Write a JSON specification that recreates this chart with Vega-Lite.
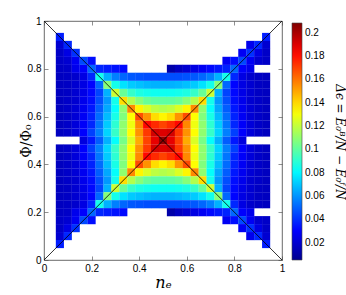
{
"$schema": "https://vega.github.io/schema/vega-lite/v6.json",
"width": 238, "height": 239,
"autosize": {"type": "none"},
"padding": {"left": 44, "top": 21, "right": 64, "bottom": 35},
"background": "white",
"config": {
  "font": "Liberation Sans",
  "view": {"stroke": "#444", "strokeWidth": 0.8},
  "axis": {"domain": false, "grid": false, "tickSize": -4, "tickColor": "#444", "tickWidth": 0.6, "labelFontSize": 10, "labelColor": "#000", "labelFont": "Liberation Sans", "titleFont": "DejaVu Serif", "titleFontWeight": "normal", "titleColor": "#000"}
},
"layer": [
{
"data": {"values": [
{"ne":0.1667,"phi":0.5,"de":0.023},{"ne":0.2,"phi":0.5,"de":0.035},{"ne":0.2333,"phi":0.5,"de":0.049},{"ne":0.2667,"phi":0.5,"de":0.066},{"ne":0.3,"phi":0.5,"de":0.082},{"ne":0.3333,"phi":0.5,"de":0.105},{"ne":0.3667,"phi":0.5,"de":0.125},{"ne":0.4,"phi":0.5,"de":0.149},{"ne":0.4333,"phi":0.5,"de":0.170},{"ne":0.4667,"phi":0.5,"de":0.188},{"ne":0.5,"phi":0.5,"de":0.205},{"ne":0.5333,"phi":0.5,"de":0.188},{"ne":0.5667,"phi":0.5,"de":0.170},{"ne":0.6,"phi":0.5,"de":0.149},{"ne":0.6333,"phi":0.5,"de":0.125},{"ne":0.6667,"phi":0.5,"de":0.105},{"ne":0.7,"phi":0.5,"de":0.082},{"ne":0.7333,"phi":0.5,"de":0.066},{"ne":0.7667,"phi":0.5,"de":0.049},{"ne":0.8,"phi":0.5,"de":0.035},{"ne":0.8333,"phi":0.5,"de":0.023},

{"ne":0.0667,"phi":0.5333,"de":0.016},{"ne":0.1,"phi":0.5333,"de":0.018},{"ne":0.1333,"phi":0.5333,"de":0.022},{"ne":0.1667,"phi":0.5333,"de":0.030},{"ne":0.2,"phi":0.5333,"de":0.043},{"ne":0.2333,"phi":0.5333,"de":0.056},{"ne":0.2667,"phi":0.5333,"de":0.073},{"ne":0.3,"phi":0.5333,"de":0.092},{"ne":0.3333,"phi":0.5333,"de":0.110},{"ne":0.3667,"phi":0.5333,"de":0.132},{"ne":0.4,"phi":0.5333,"de":0.154},{"ne":0.4333,"phi":0.5333,"de":0.172},{"ne":0.4667,"phi":0.5333,"de":0.192},{"ne":0.5,"phi":0.5333,"de":0.190},{"ne":0.5333,"phi":0.5333,"de":0.192},{"ne":0.5667,"phi":0.5333,"de":0.172},{"ne":0.6,"phi":0.5333,"de":0.154},{"ne":0.6333,"phi":0.5333,"de":0.132},{"ne":0.6667,"phi":0.5333,"de":0.110},{"ne":0.7,"phi":0.5333,"de":0.092},{"ne":0.7333,"phi":0.5333,"de":0.073},{"ne":0.7667,"phi":0.5333,"de":0.056},{"ne":0.8,"phi":0.5333,"de":0.043},{"ne":0.8333,"phi":0.5333,"de":0.030},{"ne":0.8667,"phi":0.5333,"de":0.022},{"ne":0.9,"phi":0.5333,"de":0.018},{"ne":0.9333,"phi":0.5333,"de":0.016},
{"ne":0.0667,"phi":0.4667,"de":0.016},{"ne":0.1,"phi":0.4667,"de":0.018},{"ne":0.1333,"phi":0.4667,"de":0.022},{"ne":0.1667,"phi":0.4667,"de":0.030},{"ne":0.2,"phi":0.4667,"de":0.043},{"ne":0.2333,"phi":0.4667,"de":0.056},{"ne":0.2667,"phi":0.4667,"de":0.073},{"ne":0.3,"phi":0.4667,"de":0.092},{"ne":0.3333,"phi":0.4667,"de":0.110},{"ne":0.3667,"phi":0.4667,"de":0.132},{"ne":0.4,"phi":0.4667,"de":0.154},{"ne":0.4333,"phi":0.4667,"de":0.172},{"ne":0.4667,"phi":0.4667,"de":0.192},{"ne":0.5,"phi":0.4667,"de":0.190},{"ne":0.5333,"phi":0.4667,"de":0.192},{"ne":0.5667,"phi":0.4667,"de":0.172},{"ne":0.6,"phi":0.4667,"de":0.154},{"ne":0.6333,"phi":0.4667,"de":0.132},{"ne":0.6667,"phi":0.4667,"de":0.110},{"ne":0.7,"phi":0.4667,"de":0.092},{"ne":0.7333,"phi":0.4667,"de":0.073},{"ne":0.7667,"phi":0.4667,"de":0.056},{"ne":0.8,"phi":0.4667,"de":0.043},{"ne":0.8333,"phi":0.4667,"de":0.030},{"ne":0.8667,"phi":0.4667,"de":0.022},{"ne":0.9,"phi":0.4667,"de":0.018},{"ne":0.9333,"phi":0.4667,"de":0.016},

{"ne":0.0667,"phi":0.5667,"de":0.016},{"ne":0.1,"phi":0.5667,"de":0.018},{"ne":0.1333,"phi":0.5667,"de":0.022},{"ne":0.1667,"phi":0.5667,"de":0.029},{"ne":0.2,"phi":0.5667,"de":0.038},{"ne":0.2333,"phi":0.5667,"de":0.054},{"ne":0.2667,"phi":0.5667,"de":0.071},{"ne":0.3,"phi":0.5667,"de":0.090},{"ne":0.3333,"phi":0.5667,"de":0.110},{"ne":0.3667,"phi":0.5667,"de":0.129},{"ne":0.4,"phi":0.5667,"de":0.156},{"ne":0.4333,"phi":0.5667,"de":0.182},{"ne":0.4667,"phi":0.5667,"de":0.175},{"ne":0.5,"phi":0.5667,"de":0.170},{"ne":0.5333,"phi":0.5667,"de":0.175},{"ne":0.5667,"phi":0.5667,"de":0.182},{"ne":0.6,"phi":0.5667,"de":0.156},{"ne":0.6333,"phi":0.5667,"de":0.129},{"ne":0.6667,"phi":0.5667,"de":0.110},{"ne":0.7,"phi":0.5667,"de":0.090},{"ne":0.7333,"phi":0.5667,"de":0.071},{"ne":0.7667,"phi":0.5667,"de":0.054},{"ne":0.8,"phi":0.5667,"de":0.038},{"ne":0.8333,"phi":0.5667,"de":0.029},{"ne":0.8667,"phi":0.5667,"de":0.022},{"ne":0.9,"phi":0.5667,"de":0.018},{"ne":0.9333,"phi":0.5667,"de":0.016},
{"ne":0.0667,"phi":0.4333,"de":0.016},{"ne":0.1,"phi":0.4333,"de":0.018},{"ne":0.1333,"phi":0.4333,"de":0.022},{"ne":0.1667,"phi":0.4333,"de":0.029},{"ne":0.2,"phi":0.4333,"de":0.038},{"ne":0.2333,"phi":0.4333,"de":0.054},{"ne":0.2667,"phi":0.4333,"de":0.071},{"ne":0.3,"phi":0.4333,"de":0.090},{"ne":0.3333,"phi":0.4333,"de":0.110},{"ne":0.3667,"phi":0.4333,"de":0.129},{"ne":0.4,"phi":0.4333,"de":0.156},{"ne":0.4333,"phi":0.4333,"de":0.182},{"ne":0.4667,"phi":0.4333,"de":0.175},{"ne":0.5,"phi":0.4333,"de":0.170},{"ne":0.5333,"phi":0.4333,"de":0.175},{"ne":0.5667,"phi":0.4333,"de":0.182},{"ne":0.6,"phi":0.4333,"de":0.156},{"ne":0.6333,"phi":0.4333,"de":0.129},{"ne":0.6667,"phi":0.4333,"de":0.110},{"ne":0.7,"phi":0.4333,"de":0.090},{"ne":0.7333,"phi":0.4333,"de":0.071},{"ne":0.7667,"phi":0.4333,"de":0.054},{"ne":0.8,"phi":0.4333,"de":0.038},{"ne":0.8333,"phi":0.4333,"de":0.029},{"ne":0.8667,"phi":0.4333,"de":0.022},{"ne":0.9,"phi":0.4333,"de":0.018},{"ne":0.9333,"phi":0.4333,"de":0.016},

{"ne":0.0667,"phi":0.6,"de":0.016},{"ne":0.1,"phi":0.6,"de":0.018},{"ne":0.1333,"phi":0.6,"de":0.021},{"ne":0.1667,"phi":0.6,"de":0.028},{"ne":0.2,"phi":0.6,"de":0.037},{"ne":0.2333,"phi":0.6,"de":0.052},{"ne":0.2667,"phi":0.6,"de":0.068},{"ne":0.3,"phi":0.6,"de":0.086},{"ne":0.3333,"phi":0.6,"de":0.107},{"ne":0.3667,"phi":0.6,"de":0.132},{"ne":0.4,"phi":0.6,"de":0.168},{"ne":0.4333,"phi":0.6,"de":0.154},{"ne":0.4667,"phi":0.6,"de":0.139},{"ne":0.5,"phi":0.6,"de":0.134},{"ne":0.5333,"phi":0.6,"de":0.139},{"ne":0.5667,"phi":0.6,"de":0.154},{"ne":0.6,"phi":0.6,"de":0.168},{"ne":0.6333,"phi":0.6,"de":0.132},{"ne":0.6667,"phi":0.6,"de":0.107},{"ne":0.7,"phi":0.6,"de":0.086},{"ne":0.7333,"phi":0.6,"de":0.068},{"ne":0.7667,"phi":0.6,"de":0.052},{"ne":0.8,"phi":0.6,"de":0.037},{"ne":0.8333,"phi":0.6,"de":0.028},{"ne":0.8667,"phi":0.6,"de":0.021},{"ne":0.9,"phi":0.6,"de":0.018},{"ne":0.9333,"phi":0.6,"de":0.016},
{"ne":0.0667,"phi":0.4,"de":0.016},{"ne":0.1,"phi":0.4,"de":0.018},{"ne":0.1333,"phi":0.4,"de":0.021},{"ne":0.1667,"phi":0.4,"de":0.028},{"ne":0.2,"phi":0.4,"de":0.037},{"ne":0.2333,"phi":0.4,"de":0.052},{"ne":0.2667,"phi":0.4,"de":0.068},{"ne":0.3,"phi":0.4,"de":0.086},{"ne":0.3333,"phi":0.4,"de":0.107},{"ne":0.3667,"phi":0.4,"de":0.132},{"ne":0.4,"phi":0.4,"de":0.168},{"ne":0.4333,"phi":0.4,"de":0.154},{"ne":0.4667,"phi":0.4,"de":0.139},{"ne":0.5,"phi":0.4,"de":0.134},{"ne":0.5333,"phi":0.4,"de":0.139},{"ne":0.5667,"phi":0.4,"de":0.154},{"ne":0.6,"phi":0.4,"de":0.168},{"ne":0.6333,"phi":0.4,"de":0.132},{"ne":0.6667,"phi":0.4,"de":0.107},{"ne":0.7,"phi":0.4,"de":0.086},{"ne":0.7333,"phi":0.4,"de":0.068},{"ne":0.7667,"phi":0.4,"de":0.052},{"ne":0.8,"phi":0.4,"de":0.037},{"ne":0.8333,"phi":0.4,"de":0.028},{"ne":0.8667,"phi":0.4,"de":0.021},{"ne":0.9,"phi":0.4,"de":0.018},{"ne":0.9333,"phi":0.4,"de":0.016},

{"ne":0.0667,"phi":0.6333,"de":0.016},{"ne":0.1,"phi":0.6333,"de":0.018},{"ne":0.1333,"phi":0.6333,"de":0.021},{"ne":0.1667,"phi":0.6333,"de":0.027},{"ne":0.2,"phi":0.6333,"de":0.035},{"ne":0.2333,"phi":0.6333,"de":0.049},{"ne":0.2667,"phi":0.6333,"de":0.064},{"ne":0.3,"phi":0.6333,"de":0.082},{"ne":0.3333,"phi":0.6333,"de":0.110},{"ne":0.3667,"phi":0.6333,"de":0.156},{"ne":0.4,"phi":0.6333,"de":0.134},{"ne":0.4333,"phi":0.6333,"de":0.125},{"ne":0.4667,"phi":0.6333,"de":0.119},{"ne":0.5,"phi":0.6333,"de":0.117},{"ne":0.5333,"phi":0.6333,"de":0.119},{"ne":0.5667,"phi":0.6333,"de":0.125},{"ne":0.6,"phi":0.6333,"de":0.134},{"ne":0.6333,"phi":0.6333,"de":0.156},{"ne":0.6667,"phi":0.6333,"de":0.110},{"ne":0.7,"phi":0.6333,"de":0.082},{"ne":0.7333,"phi":0.6333,"de":0.064},{"ne":0.7667,"phi":0.6333,"de":0.049},{"ne":0.8,"phi":0.6333,"de":0.035},{"ne":0.8333,"phi":0.6333,"de":0.027},{"ne":0.8667,"phi":0.6333,"de":0.021},{"ne":0.9,"phi":0.6333,"de":0.018},{"ne":0.9333,"phi":0.6333,"de":0.016},
{"ne":0.0667,"phi":0.3667,"de":0.016},{"ne":0.1,"phi":0.3667,"de":0.018},{"ne":0.1333,"phi":0.3667,"de":0.021},{"ne":0.1667,"phi":0.3667,"de":0.027},{"ne":0.2,"phi":0.3667,"de":0.035},{"ne":0.2333,"phi":0.3667,"de":0.049},{"ne":0.2667,"phi":0.3667,"de":0.064},{"ne":0.3,"phi":0.3667,"de":0.082},{"ne":0.3333,"phi":0.3667,"de":0.110},{"ne":0.3667,"phi":0.3667,"de":0.156},{"ne":0.4,"phi":0.3667,"de":0.134},{"ne":0.4333,"phi":0.3667,"de":0.125},{"ne":0.4667,"phi":0.3667,"de":0.119},{"ne":0.5,"phi":0.3667,"de":0.117},{"ne":0.5333,"phi":0.3667,"de":0.119},{"ne":0.5667,"phi":0.3667,"de":0.125},{"ne":0.6,"phi":0.3667,"de":0.134},{"ne":0.6333,"phi":0.3667,"de":0.156},{"ne":0.6667,"phi":0.3667,"de":0.110},{"ne":0.7,"phi":0.3667,"de":0.082},{"ne":0.7333,"phi":0.3667,"de":0.064},{"ne":0.7667,"phi":0.3667,"de":0.049},{"ne":0.8,"phi":0.3667,"de":0.035},{"ne":0.8333,"phi":0.3667,"de":0.027},{"ne":0.8667,"phi":0.3667,"de":0.021},{"ne":0.9,"phi":0.3667,"de":0.018},{"ne":0.9333,"phi":0.3667,"de":0.016},

{"ne":0.0667,"phi":0.6667,"de":0.016},{"ne":0.1,"phi":0.6667,"de":0.018},{"ne":0.1333,"phi":0.6667,"de":0.020},{"ne":0.1667,"phi":0.6667,"de":0.026},{"ne":0.2,"phi":0.6667,"de":0.033},{"ne":0.2333,"phi":0.6667,"de":0.046},{"ne":0.2667,"phi":0.6667,"de":0.061},{"ne":0.3,"phi":0.6667,"de":0.085},{"ne":0.3333,"phi":0.6667,"de":0.139},{"ne":0.3667,"phi":0.6667,"de":0.117},{"ne":0.4,"phi":0.6667,"de":0.108},{"ne":0.4333,"phi":0.6667,"de":0.102},{"ne":0.4667,"phi":0.6667,"de":0.100},{"ne":0.5,"phi":0.6667,"de":0.100},{"ne":0.5333,"phi":0.6667,"de":0.100},{"ne":0.5667,"phi":0.6667,"de":0.102},{"ne":0.6,"phi":0.6667,"de":0.108},{"ne":0.6333,"phi":0.6667,"de":0.117},{"ne":0.6667,"phi":0.6667,"de":0.139},{"ne":0.7,"phi":0.6667,"de":0.085},{"ne":0.7333,"phi":0.6667,"de":0.061},{"ne":0.7667,"phi":0.6667,"de":0.046},{"ne":0.8,"phi":0.6667,"de":0.033},{"ne":0.8333,"phi":0.6667,"de":0.026},{"ne":0.8667,"phi":0.6667,"de":0.020},{"ne":0.9,"phi":0.6667,"de":0.018},{"ne":0.9333,"phi":0.6667,"de":0.016},
{"ne":0.0667,"phi":0.3333,"de":0.016},{"ne":0.1,"phi":0.3333,"de":0.018},{"ne":0.1333,"phi":0.3333,"de":0.020},{"ne":0.1667,"phi":0.3333,"de":0.026},{"ne":0.2,"phi":0.3333,"de":0.033},{"ne":0.2333,"phi":0.3333,"de":0.046},{"ne":0.2667,"phi":0.3333,"de":0.061},{"ne":0.3,"phi":0.3333,"de":0.085},{"ne":0.3333,"phi":0.3333,"de":0.139},{"ne":0.3667,"phi":0.3333,"de":0.117},{"ne":0.4,"phi":0.3333,"de":0.108},{"ne":0.4333,"phi":0.3333,"de":0.102},{"ne":0.4667,"phi":0.3333,"de":0.100},{"ne":0.5,"phi":0.3333,"de":0.100},{"ne":0.5333,"phi":0.3333,"de":0.100},{"ne":0.5667,"phi":0.3333,"de":0.102},{"ne":0.6,"phi":0.3333,"de":0.108},{"ne":0.6333,"phi":0.3333,"de":0.117},{"ne":0.6667,"phi":0.3333,"de":0.139},{"ne":0.7,"phi":0.3333,"de":0.085},{"ne":0.7333,"phi":0.3333,"de":0.061},{"ne":0.7667,"phi":0.3333,"de":0.046},{"ne":0.8,"phi":0.3333,"de":0.033},{"ne":0.8333,"phi":0.3333,"de":0.026},{"ne":0.8667,"phi":0.3333,"de":0.020},{"ne":0.9,"phi":0.3333,"de":0.018},{"ne":0.9333,"phi":0.3333,"de":0.016},

{"ne":0.0667,"phi":0.7,"de":0.016},{"ne":0.1,"phi":0.7,"de":0.017},{"ne":0.1333,"phi":0.7,"de":0.020},{"ne":0.1667,"phi":0.7,"de":0.025},{"ne":0.2,"phi":0.7,"de":0.032},{"ne":0.2333,"phi":0.7,"de":0.044},{"ne":0.2667,"phi":0.7,"de":0.066},{"ne":0.3,"phi":0.7,"de":0.122},{"ne":0.3333,"phi":0.7,"de":0.102},{"ne":0.3667,"phi":0.7,"de":0.092},{"ne":0.4,"phi":0.7,"de":0.087},{"ne":0.4333,"phi":0.7,"de":0.085},{"ne":0.4667,"phi":0.7,"de":0.084},{"ne":0.5,"phi":0.7,"de":0.084},{"ne":0.5333,"phi":0.7,"de":0.084},{"ne":0.5667,"phi":0.7,"de":0.085},{"ne":0.6,"phi":0.7,"de":0.087},{"ne":0.6333,"phi":0.7,"de":0.092},{"ne":0.6667,"phi":0.7,"de":0.102},{"ne":0.7,"phi":0.7,"de":0.122},{"ne":0.7333,"phi":0.7,"de":0.066},{"ne":0.7667,"phi":0.7,"de":0.044},{"ne":0.8,"phi":0.7,"de":0.032},{"ne":0.8333,"phi":0.7,"de":0.025},{"ne":0.8667,"phi":0.7,"de":0.020},{"ne":0.9,"phi":0.7,"de":0.017},{"ne":0.9333,"phi":0.7,"de":0.016},
{"ne":0.0667,"phi":0.3,"de":0.016},{"ne":0.1,"phi":0.3,"de":0.017},{"ne":0.1333,"phi":0.3,"de":0.020},{"ne":0.1667,"phi":0.3,"de":0.025},{"ne":0.2,"phi":0.3,"de":0.032},{"ne":0.2333,"phi":0.3,"de":0.044},{"ne":0.2667,"phi":0.3,"de":0.066},{"ne":0.3,"phi":0.3,"de":0.122},{"ne":0.3333,"phi":0.3,"de":0.102},{"ne":0.3667,"phi":0.3,"de":0.092},{"ne":0.4,"phi":0.3,"de":0.087},{"ne":0.4333,"phi":0.3,"de":0.085},{"ne":0.4667,"phi":0.3,"de":0.084},{"ne":0.5,"phi":0.3,"de":0.084},{"ne":0.5333,"phi":0.3,"de":0.084},{"ne":0.5667,"phi":0.3,"de":0.085},{"ne":0.6,"phi":0.3,"de":0.087},{"ne":0.6333,"phi":0.3,"de":0.092},{"ne":0.6667,"phi":0.3,"de":0.102},{"ne":0.7,"phi":0.3,"de":0.122},{"ne":0.7333,"phi":0.3,"de":0.066},{"ne":0.7667,"phi":0.3,"de":0.044},{"ne":0.8,"phi":0.3,"de":0.032},{"ne":0.8333,"phi":0.3,"de":0.025},{"ne":0.8667,"phi":0.3,"de":0.020},{"ne":0.9,"phi":0.3,"de":0.017},{"ne":0.9333,"phi":0.3,"de":0.016},

{"ne":0.0667,"phi":0.7333,"de":0.016},{"ne":0.1,"phi":0.7333,"de":0.017},{"ne":0.1333,"phi":0.7333,"de":0.020},{"ne":0.1667,"phi":0.7333,"de":0.024},{"ne":0.2,"phi":0.7333,"de":0.031},{"ne":0.2333,"phi":0.7333,"de":0.051},{"ne":0.2667,"phi":0.7333,"de":0.108},{"ne":0.3,"phi":0.7333,"de":0.085},{"ne":0.3333,"phi":0.7333,"de":0.076},{"ne":0.3667,"phi":0.7333,"de":0.071},{"ne":0.4,"phi":0.7333,"de":0.069},{"ne":0.4333,"phi":0.7333,"de":0.067},{"ne":0.4667,"phi":0.7333,"de":0.066},{"ne":0.5,"phi":0.7333,"de":0.066},{"ne":0.5333,"phi":0.7333,"de":0.066},{"ne":0.5667,"phi":0.7333,"de":0.067},{"ne":0.6,"phi":0.7333,"de":0.069},{"ne":0.6333,"phi":0.7333,"de":0.071},{"ne":0.6667,"phi":0.7333,"de":0.076},{"ne":0.7,"phi":0.7333,"de":0.085},{"ne":0.7333,"phi":0.7333,"de":0.108},{"ne":0.7667,"phi":0.7333,"de":0.051},{"ne":0.8,"phi":0.7333,"de":0.031},{"ne":0.8333,"phi":0.7333,"de":0.024},{"ne":0.8667,"phi":0.7333,"de":0.020},{"ne":0.9,"phi":0.7333,"de":0.017},{"ne":0.9333,"phi":0.7333,"de":0.016},
{"ne":0.0667,"phi":0.2667,"de":0.016},{"ne":0.1,"phi":0.2667,"de":0.017},{"ne":0.1333,"phi":0.2667,"de":0.020},{"ne":0.1667,"phi":0.2667,"de":0.024},{"ne":0.2,"phi":0.2667,"de":0.031},{"ne":0.2333,"phi":0.2667,"de":0.051},{"ne":0.2667,"phi":0.2667,"de":0.108},{"ne":0.3,"phi":0.2667,"de":0.085},{"ne":0.3333,"phi":0.2667,"de":0.076},{"ne":0.3667,"phi":0.2667,"de":0.071},{"ne":0.4,"phi":0.2667,"de":0.069},{"ne":0.4333,"phi":0.2667,"de":0.067},{"ne":0.4667,"phi":0.2667,"de":0.066},{"ne":0.5,"phi":0.2667,"de":0.066},{"ne":0.5333,"phi":0.2667,"de":0.066},{"ne":0.5667,"phi":0.2667,"de":0.067},{"ne":0.6,"phi":0.2667,"de":0.069},{"ne":0.6333,"phi":0.2667,"de":0.071},{"ne":0.6667,"phi":0.2667,"de":0.076},{"ne":0.7,"phi":0.2667,"de":0.085},{"ne":0.7333,"phi":0.2667,"de":0.108},{"ne":0.7667,"phi":0.2667,"de":0.051},{"ne":0.8,"phi":0.2667,"de":0.031},{"ne":0.8333,"phi":0.2667,"de":0.024},{"ne":0.8667,"phi":0.2667,"de":0.020},{"ne":0.9,"phi":0.2667,"de":0.017},{"ne":0.9333,"phi":0.2667,"de":0.016},

{"ne":0.0667,"phi":0.7667,"de":0.016},{"ne":0.1,"phi":0.7667,"de":0.017},{"ne":0.1333,"phi":0.7667,"de":0.019},{"ne":0.1667,"phi":0.7667,"de":0.024},{"ne":0.2,"phi":0.7667,"de":0.038},{"ne":0.2333,"phi":0.7667,"de":0.085},{"ne":0.2667,"phi":0.7667,"de":0.066},{"ne":0.3,"phi":0.7667,"de":0.056},{"ne":0.3333,"phi":0.7667,"de":0.051},{"ne":0.3667,"phi":0.7667,"de":0.048},{"ne":0.4,"phi":0.7667,"de":0.047},{"ne":0.4333,"phi":0.7667,"de":0.046},{"ne":0.4667,"phi":0.7667,"de":0.046},{"ne":0.5,"phi":0.7667,"de":0.046},{"ne":0.5333,"phi":0.7667,"de":0.046},{"ne":0.5667,"phi":0.7667,"de":0.046},{"ne":0.6,"phi":0.7667,"de":0.047},{"ne":0.6333,"phi":0.7667,"de":0.048},{"ne":0.6667,"phi":0.7667,"de":0.051},{"ne":0.7,"phi":0.7667,"de":0.056},{"ne":0.7333,"phi":0.7667,"de":0.066},{"ne":0.7667,"phi":0.7667,"de":0.085},{"ne":0.8,"phi":0.7667,"de":0.038},{"ne":0.8333,"phi":0.7667,"de":0.024},{"ne":0.8667,"phi":0.7667,"de":0.019},{"ne":0.9,"phi":0.7667,"de":0.017},{"ne":0.9333,"phi":0.7667,"de":0.016},
{"ne":0.0667,"phi":0.2333,"de":0.016},{"ne":0.1,"phi":0.2333,"de":0.017},{"ne":0.1333,"phi":0.2333,"de":0.019},{"ne":0.1667,"phi":0.2333,"de":0.024},{"ne":0.2,"phi":0.2333,"de":0.038},{"ne":0.2333,"phi":0.2333,"de":0.085},{"ne":0.2667,"phi":0.2333,"de":0.066},{"ne":0.3,"phi":0.2333,"de":0.056},{"ne":0.3333,"phi":0.2333,"de":0.051},{"ne":0.3667,"phi":0.2333,"de":0.048},{"ne":0.4,"phi":0.2333,"de":0.047},{"ne":0.4333,"phi":0.2333,"de":0.046},{"ne":0.4667,"phi":0.2333,"de":0.046},{"ne":0.5,"phi":0.2333,"de":0.046},{"ne":0.5333,"phi":0.2333,"de":0.046},{"ne":0.5667,"phi":0.2333,"de":0.046},{"ne":0.6,"phi":0.2333,"de":0.047},{"ne":0.6333,"phi":0.2333,"de":0.048},{"ne":0.6667,"phi":0.2333,"de":0.051},{"ne":0.7,"phi":0.2333,"de":0.056},{"ne":0.7333,"phi":0.2333,"de":0.066},{"ne":0.7667,"phi":0.2333,"de":0.085},{"ne":0.8,"phi":0.2333,"de":0.038},{"ne":0.8333,"phi":0.2333,"de":0.024},{"ne":0.8667,"phi":0.2333,"de":0.019},{"ne":0.9,"phi":0.2333,"de":0.017},{"ne":0.9333,"phi":0.2333,"de":0.016},

{"ne":0.0667,"phi":0.8,"de":0.017},{"ne":0.1,"phi":0.8,"de":0.018},{"ne":0.1333,"phi":0.8,"de":0.026},{"ne":0.1667,"phi":0.8,"de":0.030},{"ne":0.2,"phi":0.8,"de":0.051},{"ne":0.2333,"phi":0.8,"de":0.038},{"ne":0.2667,"phi":0.8,"de":0.036},{"ne":0.3,"phi":0.8,"de":0.034},{"ne":0.3333,"phi":0.8,"de":0.032},{"ne":0.5333,"phi":0.8,"de":0.011},{"ne":0.5667,"phi":0.8,"de":0.016},{"ne":0.6,"phi":0.8,"de":0.020},{"ne":0.6333,"phi":0.8,"de":0.024},{"ne":0.6667,"phi":0.8,"de":0.028},{"ne":0.7,"phi":0.8,"de":0.032},{"ne":0.7333,"phi":0.8,"de":0.035},{"ne":0.7667,"phi":0.8,"de":0.037},{"ne":0.8,"phi":0.8,"de":0.051},{"ne":0.8333,"phi":0.8,"de":0.030},{"ne":0.8667,"phi":0.8,"de":0.026},
{"ne":0.0667,"phi":0.2,"de":0.017},{"ne":0.1,"phi":0.2,"de":0.018},{"ne":0.1333,"phi":0.2,"de":0.026},{"ne":0.1667,"phi":0.2,"de":0.030},{"ne":0.2,"phi":0.2,"de":0.051},{"ne":0.2333,"phi":0.2,"de":0.038},{"ne":0.2667,"phi":0.2,"de":0.036},{"ne":0.3,"phi":0.2,"de":0.034},{"ne":0.3333,"phi":0.2,"de":0.032},{"ne":0.5333,"phi":0.2,"de":0.011},{"ne":0.5667,"phi":0.2,"de":0.016},{"ne":0.6,"phi":0.2,"de":0.020},{"ne":0.6333,"phi":0.2,"de":0.024},{"ne":0.6667,"phi":0.2,"de":0.028},{"ne":0.7,"phi":0.2,"de":0.032},{"ne":0.7333,"phi":0.2,"de":0.035},{"ne":0.7667,"phi":0.2,"de":0.037},{"ne":0.8,"phi":0.2,"de":0.051},{"ne":0.8333,"phi":0.2,"de":0.030},{"ne":0.8667,"phi":0.2,"de":0.026},

{"ne":0.0667,"phi":0.8333,"de":0.018},{"ne":0.1,"phi":0.8333,"de":0.020},{"ne":0.1333,"phi":0.8333,"de":0.028},{"ne":0.1667,"phi":0.8333,"de":0.045},{"ne":0.2,"phi":0.8333,"de":0.033},{"ne":0.7667,"phi":0.8333,"de":0.028},{"ne":0.8,"phi":0.8333,"de":0.033},{"ne":0.8333,"phi":0.8333,"de":0.045},{"ne":0.8667,"phi":0.8333,"de":0.028},{"ne":0.9,"phi":0.8333,"de":0.020},{"ne":0.9333,"phi":0.8333,"de":0.018},
{"ne":0.0667,"phi":0.1667,"de":0.018},{"ne":0.1,"phi":0.1667,"de":0.020},{"ne":0.1333,"phi":0.1667,"de":0.028},{"ne":0.1667,"phi":0.1667,"de":0.045},{"ne":0.2,"phi":0.1667,"de":0.033},{"ne":0.7667,"phi":0.1667,"de":0.028},{"ne":0.8,"phi":0.1667,"de":0.033},{"ne":0.8333,"phi":0.1667,"de":0.045},{"ne":0.8667,"phi":0.1667,"de":0.028},{"ne":0.9,"phi":0.1667,"de":0.020},{"ne":0.9333,"phi":0.1667,"de":0.018},

{"ne":0.0667,"phi":0.8667,"de":0.018},{"ne":0.1,"phi":0.8667,"de":0.024},{"ne":0.1333,"phi":0.8667,"de":0.040},{"ne":0.8333,"phi":0.8667,"de":0.028},{"ne":0.8667,"phi":0.8667,"de":0.040},{"ne":0.9,"phi":0.8667,"de":0.024},{"ne":0.9333,"phi":0.8667,"de":0.018},
{"ne":0.0667,"phi":0.1333,"de":0.018},{"ne":0.1,"phi":0.1333,"de":0.024},{"ne":0.1333,"phi":0.1333,"de":0.040},{"ne":0.8333,"phi":0.1333,"de":0.028},{"ne":0.8667,"phi":0.1333,"de":0.040},{"ne":0.9,"phi":0.1333,"de":0.024},{"ne":0.9333,"phi":0.1333,"de":0.018},

{"ne":0.0667,"phi":0.9,"de":0.020},{"ne":0.1,"phi":0.9,"de":0.038},{"ne":0.8667,"phi":0.9,"de":0.026},{"ne":0.9,"phi":0.9,"de":0.038},{"ne":0.9333,"phi":0.9,"de":0.020},
{"ne":0.0667,"phi":0.1,"de":0.020},{"ne":0.1,"phi":0.1,"de":0.038},{"ne":0.8667,"phi":0.1,"de":0.026},{"ne":0.9,"phi":0.1,"de":0.038},{"ne":0.9333,"phi":0.1,"de":0.020},

{"ne":0.0667,"phi":0.9333,"de":0.036},{"ne":0.9333,"phi":0.9333,"de":0.036},
{"ne":0.0667,"phi":0.0667,"de":0.036},{"ne":0.9333,"phi":0.0667,"de":0.036}
]},
"mark": {"type": "square", "size": 66, "filled": true, "opacity": 1, "strokeWidth": 0},
"encoding": {
  "x": {"field": "ne", "type": "quantitative", "scale": {"domain": [0, 1], "nice": false, "zero": false},
        "axis": {"values": [0, 0.2, 0.4, 0.6, 0.8, 1], "format": "~g", "title": "nₑ", "titleFontSize": 16, "titleFontStyle": "italic", "labelPadding": 7, "titlePadding": 1, "labelFlush": false}},
  "y": {"field": "phi", "type": "quantitative", "scale": {"domain": [0, 1], "nice": false, "zero": false},
        "axis": {"values": [0, 0.2, 0.4, 0.6, 0.8, 1], "format": "~g", "title": "Φ/Φ₀", "titleFontSize": 14, "labelPadding": 7, "titlePadding": -6, "labelFlush": false}},
  "color": {"field": "de", "type": "quantitative",
            "scale": {"domain": [0.005, 0.0304, 0.0813, 0.1322, 0.1831, 0.2085], "range": ["#00008f", "#0000ff", "#00ffff", "#ffff00", "#ff0000", "#800000"], "interpolate": "rgb"},
            "legend": {"orient": "none", "legendX": 248, "legendY": 2, "direction": "vertical", "gradientLength": 237, "gradientThickness": 10,
                       "values": [0.02, 0.04, 0.06, 0.08, 0.1, 0.12, 0.14, 0.16, 0.18, 0.2], "format": "~g",
                       "labelFontSize": 10, "labelOffset": 3, "labelColor": "#000", "labelFont": "Liberation Sans", "labelOverlap": false,
                       "gradientStrokeColor": "#444", "gradientStrokeWidth": 0.6, "padding": 0,
                       "title": "Δϵ = E₀ᴮ/N − E₀ᶠ/N", "titleOrient": "right", "titleAngle": 270, "titleFont": "DejaVu Serif", "titleFontStyle": "italic", "titleFontSize": 12, "titleFontWeight": "normal", "titleColor": "#000",
                       "titleAnchor": "middle", "titleAlign": "center", "titleBaseline": "top", "titlePadding": 21}}
}
},
{
"data": {"values": [{"xa": 0, "ya": 0, "xb": 1, "yb": 1}, {"xa": 0, "ya": 1, "xb": 1, "yb": 0}]},
"mark": {"type": "rule", "color": "#000", "strokeWidth": 0.8},
"encoding": {
  "x": {"field": "xa", "type": "quantitative", "axis": {"orient": "top", "labels": false, "title": null, "values": [0, 0.2, 0.4, 0.6, 0.8, 1]}},
  "y": {"field": "ya", "type": "quantitative", "axis": {"orient": "right", "labels": false, "title": null, "values": [0, 0.2, 0.4, 0.6, 0.8, 1]}},
  "x2": {"field": "xb"},
  "y2": {"field": "yb"}
}
}
],
"resolve": {"axis": {"x": "independent", "y": "independent"}}
}
